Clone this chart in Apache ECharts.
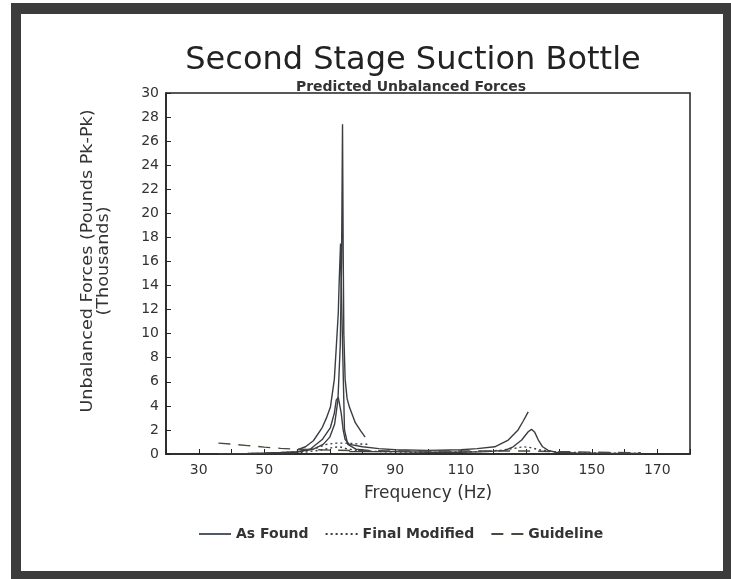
<!DOCTYPE html>
<html>
<head>
<meta charset="utf-8">
<script src="https://cdn.jsdelivr.net/npm/echarts@6/dist/echarts.min.js"></script>
<style>
html,body{margin:0;padding:0;background:#fff;}
#chart{width:731px;height:579px;}
</style>
</head>
<body>
<div id="chart"></div>
<script>
// ---- data (frequency Hz, force in thousands of lb pk-pk) ----
var asFoundA_x = [36, 40, 45, 50, 55, 60, 65, 68, 70, 71.5, 72.5, 73.2, 73.6, 73.9, 74.1, 74.3, 74.7, 75.3, 76.0, 77.8, 79.5, 80.8];
var asFoundA_y = [0.02, 0.03, 0.05, 0.08, 0.12, 0.2, 0.4, 0.8, 1.4, 2.5, 4.5, 9, 16, 27.4, 17, 10, 6.2, 4.6, 3.9, 2.6, 1.9, 1.4];

var asFoundD_x = [60, 62.6, 65, 67.7, 69, 70.2, 71.4, 72, 72.6, 72.9, 73.3, 73.6, 74.0, 74.5, 75.5, 78, 82];
var asFoundD_y = [0.35, 0.6, 1.1, 2.2, 3.0, 3.9, 6.2, 8.9, 11.7, 14.5, 17.5, 13, 8, 2.0, 0.8, 0.4, 0.3];

var asFoundB_x = [55, 60, 64, 67.7, 70.2, 71.4, 72.0, 72.6, 73.2, 73.5, 74.1, 74.7, 76, 80, 85, 90, 100, 110, 115, 120.4, 124.5, 127.5, 129, 130.6];
var asFoundB_y = [0.05, 0.15, 0.4, 1.2, 2.2, 3.4, 4.5, 4.7, 4.6, 3.4, 2.0, 1.2, 0.8, 0.6, 0.45, 0.35, 0.3, 0.35, 0.45, 0.6, 1.16, 2.0, 2.7, 3.5];

var asFoundC_x = [76, 80, 90, 100, 110, 118, 123.5, 126, 128.6, 130.6, 131.6, 132.6, 133.7, 135, 136.7, 139, 145, 155, 165];
var asFoundC_y = [0.2, 0.2, 0.2, 0.15, 0.15, 0.2, 0.3, 0.6, 1.16, 1.85, 2.05, 1.8, 1.16, 0.6, 0.3, 0.15, 0.08, 0.05, 0.05];

var finalModA_x = [40, 50, 58, 63, 66, 69, 72, 75, 78, 82];
var finalModA_y = [0.02, 0.05, 0.15, 0.3, 0.5, 0.8, 0.9, 0.9, 0.85, 0.8];

var finalModB_x = [55, 62, 68, 71, 73, 75, 78, 85, 95, 105, 115, 122, 126, 129, 131, 134, 138, 145, 155, 165];
var finalModB_y = [0.05, 0.15, 0.35, 0.55, 0.6, 0.45, 0.3, 0.2, 0.15, 0.15, 0.2, 0.3, 0.45, 0.6, 0.55, 0.35, 0.2, 0.12, 0.08, 0.05];

var guideline_x = [36, 40, 45, 50, 55, 60, 70, 80, 90, 100, 110, 120, 130, 140, 150, 165];
var guideline_y = [0.9, 0.82, 0.7, 0.57, 0.47, 0.4, 0.32, 0.28, 0.26, 0.25, 0.25, 0.25, 0.25, 0.2, 0.15, 0.1];

var xTickLabels = [30, 50, 70, 90, 110, 130, 150, 170];
var legendNames = ['As Found', 'Final Modified', 'Guideline'];

function pairs(xs, ys) { return xs.map(function (x, i) { return [x, ys[i]]; }); }

var FONT = 'DejaVu Sans';
var lineColor = '#3a3d42';

function mkSeries(name, xs, ys, type, width, color) {
  return {
    name: name, type: 'line', data: pairs(xs, ys),
    symbol: 'none', smooth: false, silent: true,
    lineStyle: { color: color || lineColor, width: width || 1.4, type: type || 'solid' },
    itemStyle: { color: color || lineColor }
  };
}

var chart = echarts.init(document.getElementById('chart'), null, { renderer: 'canvas' });
chart.setOption({
  animation: false,
  backgroundColor: '#fff',
  title: [
    { text: 'Second Stage Suction Bottle', left: 408, top: 40, textAlign: 'center',
      textStyle: { fontFamily: FONT, fontSize: 32, fontWeight: 'normal', color: '#222' } },
    { text: 'Predicted Unbalanced Forces', left: 406, top: 75, textAlign: 'center',
      textStyle: { fontFamily: FONT, fontSize: 14, fontWeight: 'bold', color: '#333' } }
  ],
  grid: { left: 166, right: 41, top: 93, bottom: 125, show: true, borderColor: '#222', borderWidth: 1.5, containLabel: false },
  legend: {
    data: [
      { name: 'As Found', lineStyle: { color: '#4f5a66' } },
      { name: 'Final Modified' },
      { name: 'Guideline' }
    ],
    left: 193, top: 522, itemWidth: 32, itemHeight: 14, itemGap: 16,
    itemStyle: { opacity: 0 },
    textStyle: { fontFamily: FONT, fontSize: 14, fontWeight: 'bold', color: '#333' }
  },
  xAxis: {
    type: 'value', min: 20, max: 180, interval: 10,
    name: 'Frequency (Hz)', nameLocation: 'middle', nameGap: 31,
    nameTextStyle: { fontFamily: FONT, fontSize: 17, color: '#333' },
    axisLine: { lineStyle: { color: '#222', width: 1.5 } },
    axisTick: { inside: true, length: 5, lineStyle: { color: '#222' } },
    splitLine: { show: false },
    axisLabel: {
      fontFamily: FONT, fontSize: 14, color: '#333', margin: 9,
      formatter: function (v) { return xTickLabels.indexOf(v) >= 0 ? String(v) : ''; }
    }
  },
  yAxis: {
    type: 'value', min: 0, max: 30, interval: 2,
    axisLine: { show: true, lineStyle: { color: '#222', width: 1.5 } },
    axisTick: { show: true, inside: true, length: 5, lineStyle: { color: '#222' } },
    splitLine: { show: false },
    axisLabel: { fontFamily: FONT, fontSize: 14, color: '#333', margin: 7 }
  },
  graphic: [
    { type: 'text', x: 96, y: 261, rotation: Math.PI / 2, scaleX: 1.1, silent: true,
      style: { text: 'Unbalanced Forces (Pounds Pk-Pk)\n(Thousands)', fontFamily: FONT, fontSize: 16,
        lineHeight: 16, fill: '#333', align: 'center', verticalAlign: 'middle' } },
    { type: 'rect', silent: true, shape: { x: 11, y: 3, width: 720, height: 11 }, style: { fill: '#3c3c3c' } },
    { type: 'rect', silent: true, shape: { x: 11, y: 3, width: 10, height: 576 }, style: { fill: '#3c3c3c' } },
    { type: 'rect', silent: true, shape: { x: 723, y: 3, width: 8, height: 576 }, style: { fill: '#3c3c3c' } },
    { type: 'rect', silent: true, shape: { x: 11, y: 571, width: 720, height: 8 }, style: { fill: '#3c3c3c' } }
  ],
  series: [
    mkSeries('As Found', asFoundA_x, asFoundA_y, 'solid', 1.4),
    mkSeries('As Found', asFoundD_x, asFoundD_y, 'solid', 1.4),
    mkSeries('As Found', asFoundB_x, asFoundB_y, 'solid', 1.4),
    mkSeries('As Found', asFoundC_x, asFoundC_y, 'solid', 1.4),
    mkSeries('Final Modified', finalModA_x, finalModA_y, [2, 3], 1.4),
    mkSeries('Final Modified', finalModB_x, finalModB_y, [2, 3], 1.4),
    mkSeries('Guideline', guideline_x, guideline_y, [12, 8], 1.4, '#4a4a3c')
  ]
});
</script>
</body>
</html>
